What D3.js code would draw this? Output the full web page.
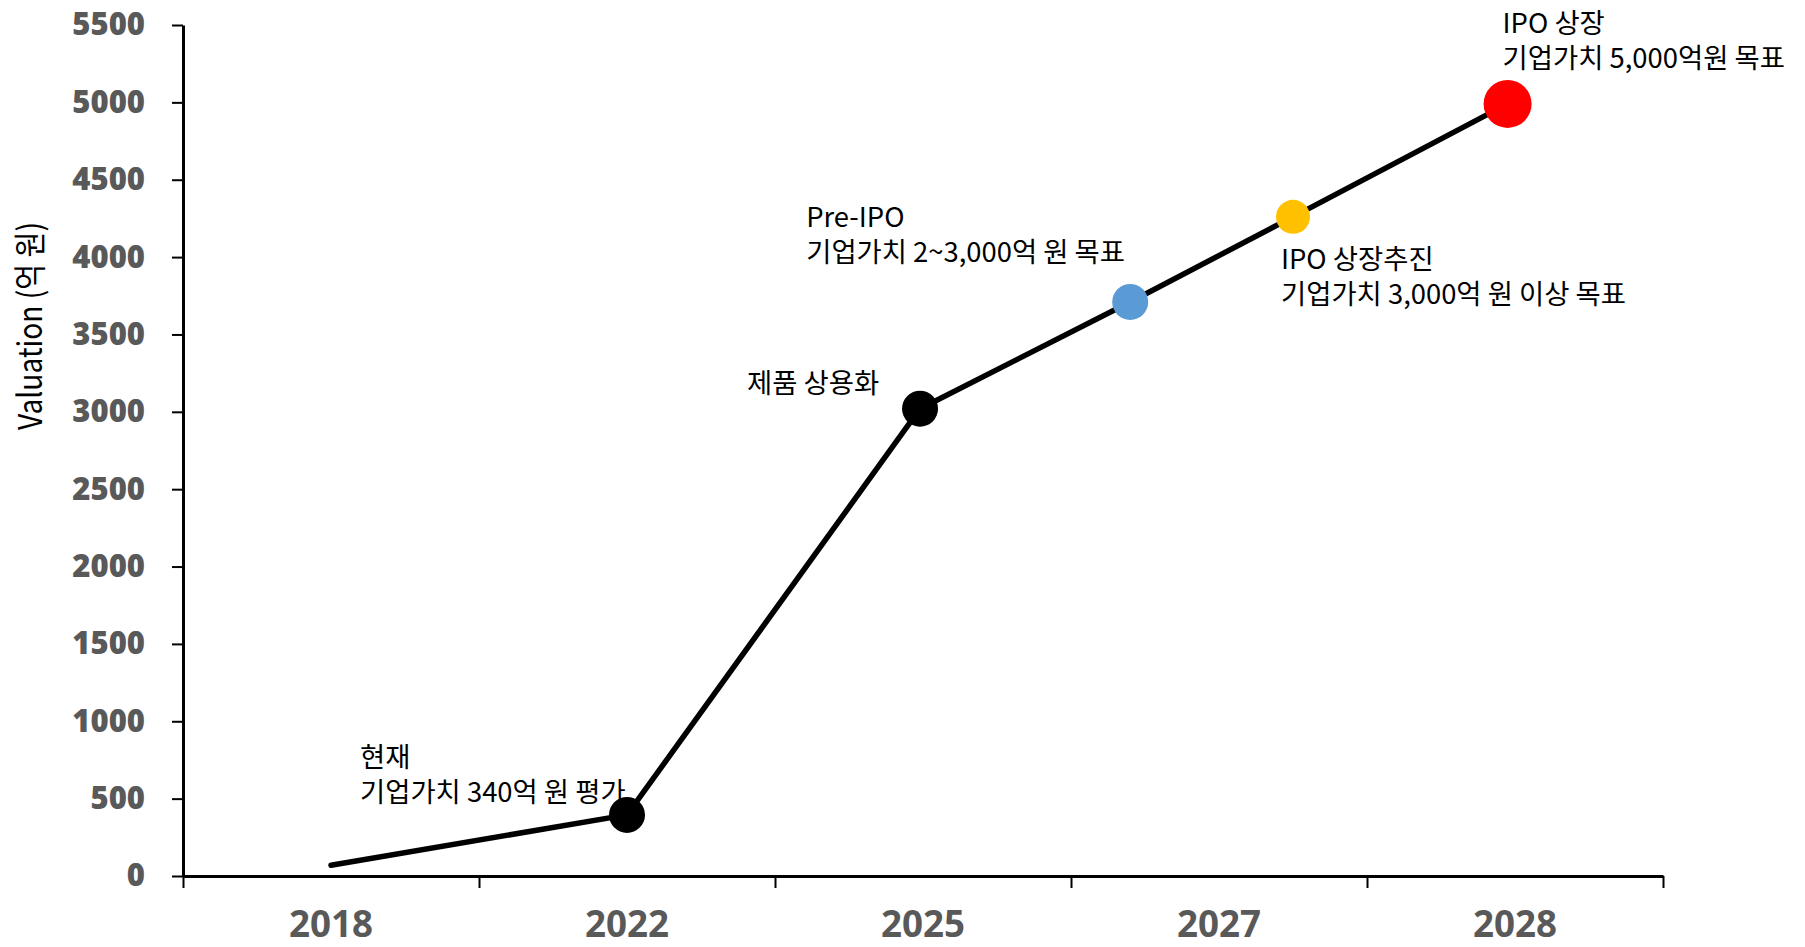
<!DOCTYPE html>
<html>
<head>
<meta charset="utf-8">
<script src="https://cdn.jsdelivr.net/npm/d3@7"></script>
<style>
  html, body { margin: 0; padding: 0; background: #fff; }
  svg { display: block; }
</style>
</head>
<body>
<svg id="chart" width="1805" height="947"></svg>
<script>
// ---- Data ----
const categories = ["2018", "2022", "2025", "2027", "2028"];
// position of each milestone along the category axis (index units)
const pointPos = [0, 1, 1.99, 2.70, 3.25, 3.975];
const pointValues = [70, 395, 3020, 3710, 4260, 4990];
const pointColors = [null, "#000000", "#000000", "#5B9BD5", "#FFC000", "#FF0000"];
const pointRadius = [0, 18, 18, 18, 17, 24];
const yTicks = [0, 500, 1000, 1500, 2000, 2500, 3000, 3500, 4000, 4500, 5000, 5500];
const yTitle = "Valuation (억 원)";
const annotations = [
  { point: 1, lines: ["현재", "기업가치 340억 원 평가"] },
  { point: 2, lines: ["제품 상용화"] },
  { point: 3, lines: ["Pre-IPO", "기업가치 2~3,000억 원 목표"] },
  { point: 4, lines: ["IPO 상장추진", "기업가치 3,000억 원 이상 목표"] },
  { point: 5, lines: ["IPO 상장", "기업가치 5,000억원 목표"] }
];

(function () {
// ---- Layout ----
const svg = d3.select("#chart");
const mLeft = 183, mRight = 1663, mTop = 25, mBottom = 876;

const x = d3.scaleLinear().domain([-0.5, categories.length - 0.5]).range([mLeft, mRight]);
const y = d3.scaleLinear().domain([0, 5500]).range([mBottom, mTop]);

// Y axis
const yAxis = svg.append("g")
  .attr("transform", `translate(${mLeft},0)`)
  .call(d3.axisLeft(y).tickValues(yTicks).tickSize(11).tickSizeOuter(0).tickPadding(27).tickFormat(d3.format("d")));
yAxis.select(".domain").attr("stroke", "#000").attr("stroke-width", 3);
yAxis.selectAll(".tick line").attr("stroke", "#000").attr("stroke-width", 2);
yAxis.selectAll(".tick text")
  .attr("fill", "#595959")
  .style("font-family", "'Open Sans', sans-serif")
  .style("font-weight", "800")
  .style("font-size", "31px");

// X axis (ticks at category boundaries)
const xBoundaries = d3.range(categories.length + 1).map(i => i - 0.5);
const xAxis = svg.append("g")
  .attr("transform", `translate(0,${mBottom})`)
  .call(d3.axisBottom(x).tickValues(xBoundaries).tickSize(12).tickSizeOuter(0).tickFormat(""));
xAxis.select(".domain").attr("stroke", "#000").attr("stroke-width", 3);
xAxis.selectAll(".tick line").attr("stroke", "#000").attr("stroke-width", 2);

svg.append("g").selectAll("text")
  .data(categories)
  .join("text")
  .attr("x", (d, i) => x(i))
  .attr("y", 937)
  .attr("text-anchor", "middle")
  .attr("fill", "#595959")
  .attr("textLength", 84)
  .attr("lengthAdjust", "spacingAndGlyphs")
  .style("font-family", "'Open Sans', sans-serif")
  .style("font-weight", "700")
  .style("font-size", "38px")
  .text(d => d);

// Y title
svg.append("text")
  .attr("transform", `translate(42,326) rotate(-90)`)
  .attr("text-anchor", "middle")
  .attr("textLength", 208)
  .attr("lengthAdjust", "spacingAndGlyphs")
  .attr("fill", "#000")
  .style("font-family", "'Noto Sans CJK KR', sans-serif")
  .style("font-size", "33px")
  .text(yTitle);

// Line
const pts = pointPos.map((p, i) => ({ p, v: pointValues[i], c: pointColors[i], r: pointRadius[i] }));
svg.append("path")
  .datum(pts)
  .attr("fill", "none")
  .attr("stroke", "#000")
  .attr("stroke-width", 5.5)
  .attr("stroke-linecap", "round")
  .attr("stroke-linejoin", "round")
  .attr("d", d3.line().x(d => x(d.p)).y(d => y(d.v)));

// Markers
svg.append("g").selectAll("circle")
  .data(pts.filter(d => d.c))
  .join("circle")
  .attr("cx", d => x(d.p))
  .attr("cy", d => y(d.v))
  .attr("r", d => d.r)
  .attr("fill", d => d.c);

// Annotations (offsets relative to their marker)
const annOffset = {
  1: { dx: -267, dy: -48 },
  2: { dx: -173, dy: -16 },
  3: { dx: -324, dy: -75 },
  4: { dx: -12, dy: 52 },
  5: { dx: -5, dy: -71 }
};
const lineGap = 35;
annotations.forEach(a => {
  const pt = pts[a.point];
  const o = annOffset[a.point];
  a.lines.forEach((ln, k) => {
    svg.append("text")
      .attr("fill", "#000")
      .style("font-family", "'Noto Sans CJK KR', sans-serif")
      .style("font-size", "27.4px")
      .attr("x", x(pt.p) + o.dx)
      .attr("y", y(pt.v) + o.dy + k * lineGap)
      .text(ln);
  });
});
})();
</script>
</body>
</html>
